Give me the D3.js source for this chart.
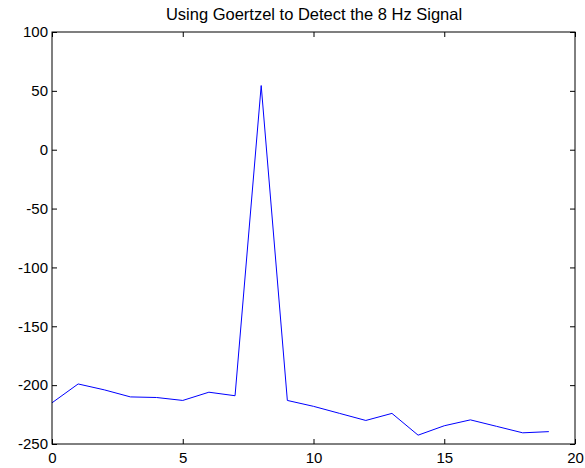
<!DOCTYPE html>
<html><head><meta charset="utf-8">
<script src="https://cdn.jsdelivr.net/npm/d3@7"></script>
<style>body{margin:0;background:#fff}svg{display:block;font-family:"Liberation Sans",Arial,sans-serif}</style>
</head><body><svg id="c" width="585" height="468"></svg>
<script>
const freqs = [0,1,2,3,4,5,6,7,8,9,10,11,12,13,14,15,16,17,18,19];
const power = [-215,-199,-204,-210,-210.5,-213,-206,-209,54.5,-213,-218,-224,-230,-224,-242.5,-234.5,-229.5,-235,-240.5,-239.5];
const xTicks = [0,5,10,15,20];
const yTicks = [100,50,0,-50,-100,-150,-200,-250];
const title = "Using Goertzel to Detect the 8 Hz Signal";

const svg = d3.select("#c");
const L=52,R=575,T=32,B=444;
const FS=15;
const x = d3.scaleLinear().domain([0,20]).range([L,R]);
const y = d3.scaleLinear().domain([-250,100]).range([B,T]);
const fmt = d => String(d);

svg.append("path").datum(freqs.map((f,i)=>[f,power[i]]))
  .attr("fill","none").attr("stroke","#0000ff").attr("stroke-width",1)
  .attr("d",d3.line().x(d=>x(d[0])).y(d=>y(d[1])));

const ax = (g,axis)=>{g.call(axis);g.select(".domain").remove();g.selectAll("line").attr("stroke","#000").attr("stroke-width",1);g.selectAll("text").attr("fill","#000").attr("font-size",FS);};
svg.append("g").attr("transform",`translate(0,${B})`).call(g=>ax(g,d3.axisBottom(x).tickValues(xTicks).tickSize(-5).tickPadding(8).tickFormat(fmt)));
svg.append("g").attr("transform",`translate(0,${T})`).call(g=>ax(g,d3.axisTop(x).tickValues(xTicks).tickSize(-5).tickFormat("")));
svg.append("g").attr("transform",`translate(${L},0)`).call(g=>ax(g,d3.axisLeft(y).tickValues(yTicks).tickSize(-5).tickPadding(4).tickFormat(fmt)));
svg.append("g").attr("transform",`translate(${R},0)`).call(g=>ax(g,d3.axisRight(y).tickValues(yTicks).tickSize(-5).tickFormat("")));

svg.append("rect").attr("x",L).attr("y",T).attr("width",R-L).attr("height",B-T).attr("fill","none").attr("stroke","#000").attr("stroke-width",1);

svg.append("text").attr("x",314).attr("y",20).attr("text-anchor","middle").attr("font-size",16.5).text(title);
</script></body></html>
